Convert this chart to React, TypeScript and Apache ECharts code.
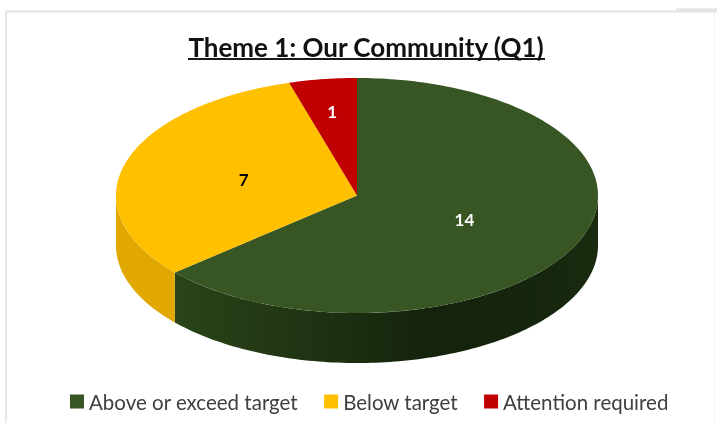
import React, { useEffect, useRef } from "react";
import * as echarts from "echarts";

const categories = ["Above or exceed target", "Below target", "Attention required"];
const values = [14, 7, 1];
const topColors = ["#375623", "#FFC000", "#C00000"];
const labelColors = ["#FFFFFF", "#000000", "#FFFFFF"];
const labelRadius = [0.49, 0.49, 0.72];
const titleText = "Theme 1: Our Community (Q1)";

const CX = 357;
const CY = 195.5;
const RX = 241;
const RY = 117.5;
const DEPTH = 50;
const TOTAL = values.reduce((a, b) => a + b, 0);

const pt = (t: number, dy = 0): number[] => [CX + RX * Math.sin(t), CY - RY * Math.cos(t) + dy];

function arcPts(a: number, b: number, dy = 0): number[][] {
  const n = Math.max(2, Math.ceil(Math.abs(b - a) / 0.02));
  const out: number[][] = [];
  for (let i = 0; i <= n; i++) out.push(pt(a + ((b - a) * i) / n, dy));
  return out;
}

function sideFill(idx: number) {
  if (idx === 0) {
    return new echarts.graphic.LinearGradient(174, 0, 597, 0, [
      { offset: 0, color: "#2A4519" },
      { offset: 0.35, color: "#1E3212" },
      { offset: 0.6, color: "#15230C" },
      { offset: 0.85, color: "#16250D" },
      { offset: 1, color: "#1A2C10" },
    ], true);
  }
  return "#E0A800";
}

function makeRenderItem(idx: number) {
  const startVal = values.slice(0, idx).reduce((a, b) => a + b, 0);
  const a0 = (startVal / TOTAL) * Math.PI * 2;
  const a1 = ((startVal + values[idx]) / TOTAL) * Math.PI * 2;
  return () => {
    const children: any[] = [];
    const s0 = Math.max(a0, Math.PI / 2);
    const s1 = Math.min(a1, (Math.PI * 3) / 2);
    if (s1 > s0) {
      const points = [...arcPts(s0, s1, 0), ...arcPts(s1, s0, DEPTH)];
      children.push({ type: "polygon", shape: { points }, style: { fill: sideFill(idx) } });
    }
    const face = [[CX, CY], ...arcPts(a0, a1)];
    children.push({ type: "polygon", shape: { points: face }, style: { fill: topColors[idx] } });
    const mid = (a0 + a1) / 2;
    const k = labelRadius[idx];
    children.push({
      type: "text",
      z2: 10,
      x: CX + RX * k * Math.sin(mid),
      y: CY - RY * k * Math.cos(mid),
      style: {
        text: String(values[idx]),
        fill: labelColors[idx],
        font: "bold 17px Lato",
        align: "center",
        verticalAlign: "middle",
      },
    });
    return { type: "group", children };
  };
}

export default function App() {
  const ref = useRef<HTMLDivElement>(null);
  useEffect(() => {
    document.body.style.margin = "0";
    document.body.style.background = "#fff";
    const chart = echarts.init(ref.current!, null, { renderer: "svg" });
    chart.setOption({
      animation: false,
      backgroundColor: "#ffffff",
      title: {
        text: titleText,
        left: 361,
        top: 29,
        textAlign: "center",
        textStyle: { fontFamily: "Lato", fontWeight: "bold", fontSize: 26, color: "#111111" },
      },
      legend: {
        left: 65,
        top: 386,
        itemWidth: 14,
        itemHeight: 14,
        itemGap: 26,
        icon: "rect",
        data: categories,
        textStyle: { fontFamily: "Lato", fontSize: 20.5, color: "#404040", padding: [0, 0, 0, 0] },
      },
      graphic: [
        { type: "line", shape: { x1: 188, y1: 59, x2: 545, y2: 59 }, style: { stroke: "#1a1a1a", lineWidth: 2 } },
        { type: "line", shape: { x1: 5, y1: 11.5, x2: 717, y2: 11.5 }, style: { stroke: "#e2e2e2", lineWidth: 2 } },
        { type: "line", shape: { x1: 6, y1: 11, x2: 6, y2: 423 }, style: { stroke: "#e8e8e8", lineWidth: 2 } },
        { type: "line", shape: { x1: 714, y1: 11, x2: 714, y2: 423 }, style: { stroke: "#f2f2f2", lineWidth: 1 } },
        { type: "line", shape: { x1: 676, y1: 9.5, x2: 717, y2: 9.5 }, style: { stroke: "#dfdfdf", lineWidth: 2 } },
      ],
      series: categories.map((name, idx) => ({
        type: "custom",
        name,
        coordinateSystem: "none",
        data: [values[idx]],
        itemStyle: { color: topColors[idx] },
        renderItem: makeRenderItem(idx),
        silent: true,
      })),
    });
    return () => chart.dispose();
  }, []);
  return (
    <div
      ref={ref}
      style={{ position: "fixed", left: 0, top: 0, width: 717, height: 423, filter: "blur(0.7px)" }}
    />
  );
}
